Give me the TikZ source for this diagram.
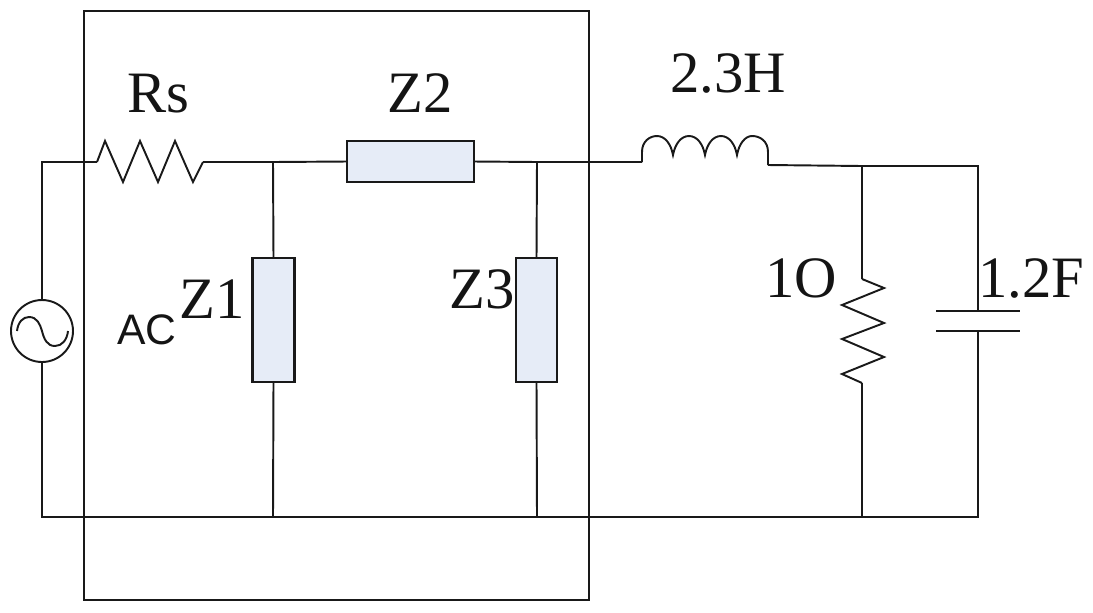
\documentclass[tikz,border=0pt]{standalone}
\usepackage{fontspec}
\setmainfont{Liberation Serif}
\newfontfamily\acfont{Liberation Sans}
\tikzset{
  wire/.style={draw=black!90,line width=1.45pt,line join=miter},
  imped/.style={draw=black!90,line width=1.6pt,fill=zfill,rectangle,inner sep=0pt,outer sep=0pt},
  lbl/.style={anchor=base,inner sep=0pt,outer sep=0pt,font=\fontsize{44}{44}\selectfont,text=black!92},
  aclbl/.style={anchor=base,inner sep=0pt,outer sep=0pt,font=\acfont\fontsize{32}{32}\selectfont,text=black!92},
  src/.style={draw=black!90,line width=1.45pt,circle,minimum size=46.5pt,inner sep=0pt,outer sep=0pt,fill=white}
}
\definecolor{zfill}{HTML}{E6ECF7}
\begin{document}
\begin{tikzpicture}[x=0.75pt,y=-0.75pt]
\useasboundingbox (0,0) rectangle (1093,612);
% enclosing box
\node[draw=black!90,line width=1.45pt,rectangle,inner sep=0pt,outer sep=0pt,minimum width=378.75pt,minimum height=441.75pt] (frame) at (336.5,305.5) {};
% coordinates
\coordinate (tl) at (42,162);
\coordinate (bl) at (42,517);
\coordinate (br) at (978,517);
\coordinate (rsa) at (97,162);
\coordinate (rsb) at (203,162);
\coordinate (j1) at (273,162);
\coordinate (j1b) at (273,517);
\coordinate (j2) at (537,162);
\coordinate (j2b) at (537,517);
\coordinate (la) at (642,162);
\coordinate (lb) at (768,165);
\coordinate (j3) at (862,166);
\coordinate (j3b) at (862,517);
\coordinate (tr) at (978,166);
\coordinate (ra) at (862,279);
\coordinate (rb) at (862,383);
\coordinate (pa) at (978,311);
\coordinate (pb) at (978,331);
\coordinate (pal) at (936,311);
\coordinate (par) at (1020,311);
\coordinate (pbl) at (936,331);
\coordinate (pbr) at (1020,331);
% components
\node[src] (ac) at (42,331) {};
\node[imped,minimum width=95pt,minimum height=30.75pt] (z2) at (410.5,161.5) {};
\node[imped,minimum width=31.5pt,minimum height=93pt] (z1) at (273.5,320) {};
\node[imped,minimum width=31pt,minimum height=93pt] (z3) at (536.5,320) {};
% wires
\draw[wire] (ac.north) -- (tl) -- (rsa);
\draw[wire] (ac.south) -- (bl) -- (br) -- (pb);
\draw[wire] (rsb) -- (j1) -- (z2.west);
\draw[wire] (z2.east) -- (j2) -- (la);
\draw[wire] (j1) -- (z1.north);
\draw[wire] (z1.south) -- (j1b);
\draw[wire] (j2) -- (z3.north);
\draw[wire] (z3.south) -- (j2b);
\draw[wire] (lb) -- (j3) -- (tr) -- (pa);
\draw[wire] (j3) -- (ra);
\draw[wire] (rb) -- (j3b);
% Rs zigzag
\draw[wire] (rsa) -- (105,141) -- (123,182) -- (140,141) -- (158,182) -- (175,141) -- (193,182) -- (rsb);
% 1 ohm zigzag
\draw[wire] (ra) -- (884,288) -- (842,305) -- (884,323) -- (842,339) -- (884,357) -- (842,374) -- (rb);
% inductor
\draw[wire] (la) -- (642,152) .. controls (642,141) and (650,136) .. (657,136) .. controls (665,136) and (671,144) .. (673,155)
  .. controls (675,144) and (681,136) .. (689,136) .. controls (697,136) and (703,144) .. (705,155)
  .. controls (707,144) and (713,136) .. (721,136) .. controls (729,136) and (735,144) .. (737,155)
  .. controls (739,144) and (745,136) .. (752,136) .. controls (760,136) and (768,141) .. (768,152) -- (lb);
% capacitor
\draw[wire] (pal) -- (par);
\draw[wire] (pbl) -- (pbr);
% sine
\draw[wire] (17,331) .. controls (18,322) and (23,317) .. (29,317) .. controls (37,317) and (40,324) .. (42,331)
  .. controls (44,339) and (47,346) .. (55,346) .. controls (62,346) and (67,340) .. (68,331);
% labels
\node[lbl] (trs) at (158,112) {Rs};
\node[lbl] (tz2) at (420,112) {Z2};
\node[lbl] (tl1) at (728,92) {2.3H};
\node[lbl] (tz1) at (212,318) {Z1};
\node[lbl] (tz3) at (482,308) {Z3};
\node[lbl] (t1o) at (801,297) {1O};
\node[lbl] (tc) at (1031,297) {1.2F};
\node[aclbl] (tac) at (147,344) {AC};
\end{tikzpicture}
\end{document}
